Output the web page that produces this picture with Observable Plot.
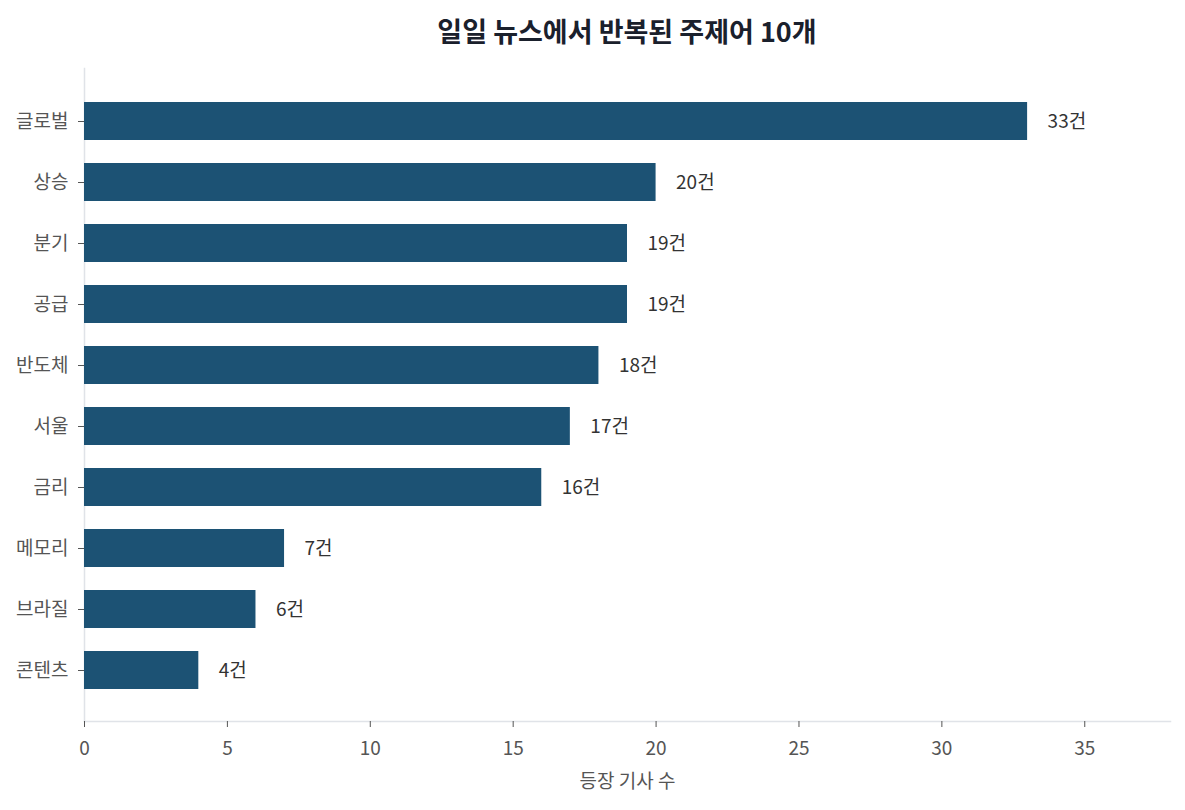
<!DOCTYPE html>
<html><head><meta charset="utf-8">
<script src="https://cdn.jsdelivr.net/npm/d3@7"></script>
<script src="https://cdn.jsdelivr.net/npm/@observablehq/plot@0.6"></script>
<style>
body{margin:0;background:#fff;font-family:"Noto Sans CJK KR","Noto Sans",sans-serif;}
#title{height:60px;margin-left:84px;width:1086px;text-align:center;font-size:27px;font-weight:700;color:#1a202c;line-height:62px;}
</style></head>
<body>
<div id="title">일일 뉴스에서 반복된 주제어 10개</div>
<div id="chart"></div>
<script>
const keywords = ["글로벌","상승","분기","공급","반도체","서울","금리","메모리","브라질","콘텐츠"];
const counts = [33,20,19,19,18,17,16,7,6,4];
const xTicks = [0,5,10,15,20,25,30,35];
const unit = "건";
const xLabel = "등장 기사 수";
const data = keywords.map((k,i)=>({k, v:counts[i]}));
const chart = Plot.plot({
  width:1185, height:750,
  marginLeft:84, marginRight:15, marginTop:8, marginBottom:89,
  insetTop:31, insetBottom:29,
  style:{fontFamily:'"Noto Sans CJK KR","Noto Sans",sans-serif', fontSize:"19px", color:"#555", background:"#fff"},
  x:{domain:[0,38], ticks:xTicks},
  y:{domain:keywords, paddingInner:0.38, paddingOuter:0},
  marks:[
    Plot.frame({anchor:"left", stroke:"#e0e3e8", strokeWidth:1.5}),
    Plot.frame({anchor:"bottom", stroke:"#e0e3e8", strokeWidth:1.5}),
    Plot.barX(data,{x:"v", y:"k", fill:"#1c5274"}),
    Plot.text(data,{x:"v", y:"k", text:d=>d.v+unit, textAnchor:"start", dx:20, fill:"#333", fontSize:19}),
    Plot.axisX({ticks:xTicks, tickSize:6, tickPadding:14, stroke:"#555", fill:"#555", fontSize:19, label:null}),
    Plot.axisY({tickSize:6, tickPadding:10, stroke:"#555", fill:"#555", fontSize:19, label:null}),
    Plot.text([xLabel],{frameAnchor:"bottom", dy:66, fill:"#555", fontSize:19})
  ]
});
document.getElementById("chart").appendChild(chart);
</script>
</body></html>
